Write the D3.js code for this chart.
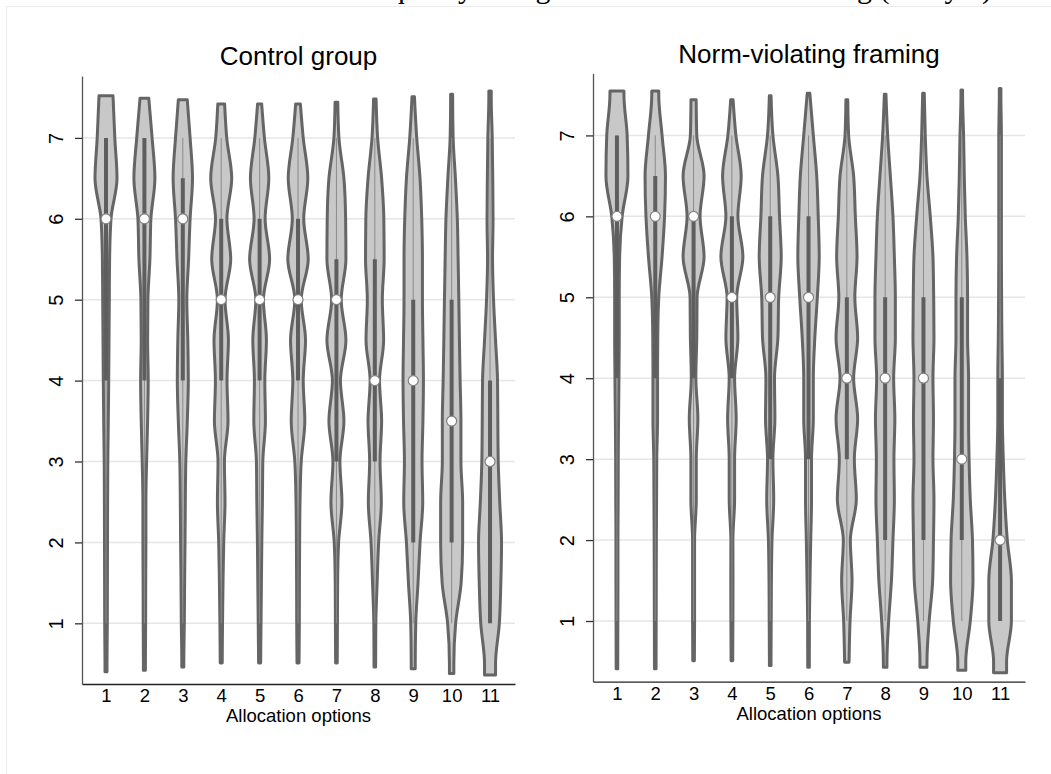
<!DOCTYPE html>
<html>
<head>
<meta charset="utf-8">
<script src="https://cdn.jsdelivr.net/npm/d3@7"></script>
<style>
  html, body { margin: 0; padding: 0; background: #fff; }
  svg { display: block; }
  text { font-family: 'Liberation Sans', Arial, sans-serif; fill: #000; }
</style>
</head>
<body>
<div id="chart"></div>
<script>
// Allocation options on the x axis
const options = [1, 2, 3, 4, 5, 6, 7, 8, 9, 10, 11];
const yTicks = [1, 2, 3, 4, 5, 6, 7];

const valueGrid = [0.5, 1, 1.5, 2, 2.5, 3, 3.5, 4, 4.5, 5, 5.5, 6, 6.5, 7, 7.5];

// Control group: density (relative width) at each valueGrid point
const controlDensity = [
  [1, 1.3, 1.4, 1.5, 1.6, 1.8, 2.3, 2.7, 3, 3.3, 3.6, 5, 11, 8.8, 7],
  [1, 1.2, 1.3, 1.5, 1.5, 2.2, 3.2, 3.8, 3.2, 3.5, 5.5, 6.5, 10.5, 7.7, 4.3],
  [1, 1.5, 1.8, 2.2, 2.5, 3, 4.5, 5.5, 5, 4, 5.8, 7.3, 9.7, 7.3, 4.3],
  [1, 1.3, 1.8, 2.5, 3.8, 3.2, 6.8, 5.8, 7.2, 3.8, 9.5, 5.7, 10.5, 5.5, 3],
  [1, 1.4, 1.8, 2.2, 2.8, 3.2, 5.8, 5.2, 6.8, 3.8, 10, 5.5, 9.2, 4.8, 1.5],
  [1, 1.3, 1.4, 1.6, 2, 3.2, 6.8, 5.2, 7.5, 3.2, 10.2, 5.7, 9.8, 5.2, 1.8],
  [0.8, 1, 1.2, 2.2, 5.5, 3.5, 7.5, 4, 9.5, 4.8, 9.5, 9.2, 7.5, 2.5, 1.2],
  [0.8, 1, 2.3, 3.8, 6.5, 5.2, 6.8, 4.7, 8.8, 7.5, 9.3, 9, 6.8, 2.8, 1.2],
  [2, 2.5, 4.8, 6.8, 9.5, 8.8, 9.7, 10.2, 9.7, 9.2, 9.2, 8.5, 6.8, 3.5, 1.2],
  [2.2, 4, 9.5, 11, 11, 9.3, 9.3, 8.5, 7.8, 7.2, 6.5, 5.7, 3.8, 1.5, 1],
  [5.5, 9.3, 10.8, 11.5, 9.7, 8.2, 7.8, 7.5, 5.5, 3.5, 2.5, 3, 2.7, 2.2, 1.2]
];
const controlLow = [0.4, 0.42, 0.46, 0.51, 0.51, 0.51, 0.51, 0.46, 0.44, 0.38, 0.36];
const controlHigh = [7.52, 7.49, 7.47, 7.42, 7.42, 7.42, 7.44, 7.48, 7.51, 7.54, 7.58];
const controlMedian = [6, 6, 6, 5, 5, 5, 5, 4, 4, 3.5, 3];
const controlQ1 = [4, 4, 4, 4, 4, 4, 3, 3, 2, 2, 1];
const controlQ3 = [7, 7, 6.5, 6, 6, 6, 5.5, 5.5, 5, 5, 4];
const controlWhiskerLow = [1, 1, 1, 1, 1, 1, 1, 1, 1, 1, 1];
const controlWhiskerHigh = [7, 7, 7, 7, 7, 7, 7, 7, 7, 7, 7];

// Norm-violating framing
const framingDensity = [
  [0.8, 0.9, 1, 1, 1.2, 1.3, 1.6, 2, 2.3, 2.3, 2.7, 5.2, 11, 10.2, 7],
  [0.8, 0.9, 1, 1.1, 1.3, 1.5, 2.3, 2.3, 2.5, 3.5, 6.8, 9.3, 10.2, 6.8, 3.5],
  [0.8, 1, 1, 1, 2.7, 2.7, 4.3, 2.3, 3.2, 3.5, 10.5, 6.5, 10.5, 3.2, 2.5],
  [0.8, 1, 1.1, 1, 2.7, 2.7, 4.3, 2.7, 6, 4.8, 11, 6, 9.3, 4, 0.8],
  [0.8, 1, 1.2, 1.8, 3.5, 2.7, 4.7, 4.3, 7.7, 8.5, 11, 9.3, 7.7, 2.7, 0.8],
  [0.8, 0.9, 1.5, 2.2, 3, 3, 4.8, 4.8, 6.3, 8.8, 10.7, 9.7, 8.2, 4.8, 1.3],
  [2.2, 3.2, 5.2, 3.5, 9.5, 7.5, 10.8, 6.8, 10.8, 8, 10.2, 8.5, 6.8, 1.8, 0.8],
  [1.8, 3.5, 6.3, 7.8, 9.2, 8.8, 9.7, 8.5, 10.2, 10.2, 9.2, 7.8, 5.2, 2.5, 0.8],
  [3.5, 5.7, 9.2, 10, 10.5, 9.5, 10, 9.5, 10.5, 10.2, 9.5, 6.8, 3.5, 1.8, 0.8],
  [4, 8.5, 11.2, 10.7, 8.5, 7.3, 6.8, 6.8, 5.8, 5.8, 5.2, 3.5, 2.5, 1.8, 0.8],
  [6.5, 11.3, 11.3, 7.2, 4.7, 3.2, 2.3, 2.3, 1.8, 1.5, 1.3, 1.3, 1.3, 1.3, 0.8]
];
const framingLow = [0.41, 0.41, 0.51, 0.51, 0.45, 0.43, 0.49, 0.43, 0.43, 0.39, 0.36];
const framingHigh = [7.55, 7.55, 7.44, 7.44, 7.49, 7.52, 7.44, 7.51, 7.52, 7.56, 7.58];
const framingMedian = [6, 6, 6, 5, 5, 5, 4, 4, 4, 3, 2];
const framingQ1 = [4, 4, 4, 4, 3, 3, 3, 2, 2, 2, 1];
const framingQ3 = [7, 6.5, 6, 6, 6, 6, 5, 5, 5, 5, 4];
const framingWhiskerLow = [1, 1, 1, 1, 1, 1, 1, 1, 1, 1, 1];
const framingWhiskerHigh = [7, 7, 7, 7, 7, 7, 7, 7, 7, 7, 7];

const width = 1051;
const height = 774;

const fillColor = '#c8c8c8';
const lineColor = '#656565';

const panels = [
  {
    title: 'Control group',
    density: controlDensity, low: controlLow, high: controlHigh,
    median: controlMedian, q1: controlQ1, q3: controlQ3,
    wlo: controlWhiskerLow, whi: controlWhiskerHigh,
    left: 82, right: 515, top: 76, bottom: 684
  },
  {
    title: 'Norm-violating framing',
    density: framingDensity, low: framingLow, high: framingHigh,
    median: framingMedian, q1: framingQ1, q3: framingQ3,
    wlo: framingWhiskerLow, whi: framingWhiskerHigh,
    left: 593, right: 1025, top: 73.5, bottom: 681.7
  }
];

const svg = d3.select('#chart')
  .append('svg')
  .attr('width', width)
  .attr('height', height)
  .attr('viewBox', [0, 0, width, height]);

// outer graph frame (runs off the page to the right and bottom)
svg.append('rect')
  .attr('x', 6.5).attr('y', 6.5)
  .attr('width', 1100).attr('height', 900)
  .attr('fill', 'none')
  .attr('stroke', '#ececec')
  .attr('stroke-width', 1);

// overall title, only its descenders reach into the page
svg.append('text')
  .attr('x', 992).attr('y', -2)
  .attr('text-anchor', 'end')
  .style('font-family', "'Liberation Serif', 'Times New Roman', serif")
  .style('font-size', '30px')
  .text('Inequality rating under control and framing (Study 1)');

// width scale shared by both panels
const maxDensity = d3.max(panels, p => d3.max(p.density, row => d3.max(row)));
const w = d3.scaleLinear().domain([0, maxDensity]).range([0, 11.5]);

panels.forEach(p => {
  const g = svg.append('g');

  const x = d3.scaleLinear().domain([0.375, 11.65]).range([p.left, p.right]);
  const y = d3.scaleLinear().domain([0.25, 7.765]).range([p.bottom, p.top]);

  // gridlines
  g.append('g')
    .selectAll('line')
    .data(yTicks)
    .join('line')
    .attr('x1', p.left).attr('x2', p.right)
    .attr('y1', d => y(d)).attr('y2', d => y(d))
    .attr('stroke', '#e6e6e6')
    .attr('stroke-width', 1.5);

  // violins
  options.forEach((opt, i) => {
    const cx = x(opt);
    const dens = d3.scaleLinear().domain(valueGrid).range(p.density[i]).clamp(true);
    const lo = p.low[i];
    const hi = p.high[i];
    let pts = [{ v: hi, d: dens(hi) }];
    valueGrid.slice().reverse().forEach(v => {
      if (v < hi - 0.02 && v > lo + 0.02) pts.push({ v: v, d: dens(v) });
    });
    pts.push({ v: lo, d: dens(lo) });

    const area = d3.area()
      .curve(d3.curveMonotoneY)
      .y(d => y(d.v))
      .x0(d => cx - w(d.d))
      .x1(d => cx + w(d.d));

    g.append('path')
      .attr('d', area(pts))
      .attr('fill', fillColor)
      .attr('stroke', lineColor)
      .attr('stroke-width', 3)
      .attr('stroke-linejoin', 'round');

    // whisker (adjacent values)
    g.append('line')
      .attr('x1', cx).attr('x2', cx)
      .attr('y1', y(p.wlo[i])).attr('y2', y(p.whi[i]))
      .attr('stroke', '#8a8a8a')
      .attr('stroke-width', 1);

    // interquartile range
    g.append('line')
      .attr('x1', cx).attr('x2', cx)
      .attr('y1', y(p.q1[i])).attr('y2', y(p.q3[i]))
      .attr('stroke', '#5e5e5e')
      .attr('stroke-width', 4);

    // median
    g.append('circle')
      .attr('cx', cx).attr('cy', y(p.median[i]))
      .attr('r', 5)
      .attr('fill', '#fff')
      .attr('stroke', '#808080')
      .attr('stroke-width', 1.2);
  });

  // y axis
  const yAxis = g.append('g')
    .attr('transform', 'translate(' + p.left + ',0)')
    .call(d3.axisLeft(y).tickValues(yTicks).tickSize(7).tickSizeOuter(0));
  yAxis.select('.domain').attr('stroke', '#555').attr('stroke-width', 1.3);
  yAxis.selectAll('.tick line').attr('stroke', '#333').attr('stroke-width', 1.3);
  yAxis.selectAll('.tick text')
    .attr('x', 0).attr('y', 0).attr('dy', null)
    .attr('text-anchor', 'middle')
    .attr('transform', 'translate(-19.5,0) rotate(-90)')
    .style('font-size', '20px')
    .attr('fill', '#000');

  // x axis
  const xAxis = g.append('g')
    .attr('transform', 'translate(0,' + p.bottom + ')')
    .call(d3.axisBottom(x).tickValues(options).tickSize(0).tickSizeOuter(0).tickPadding(5));
  xAxis.select('.domain').attr('stroke', '#222').attr('stroke-width', 1.3);
  xAxis.selectAll('.tick text')
    .style('font-size', '18.5px')
    .attr('fill', '#000');

  // axis title
  g.append('text')
    .attr('x', (p.left + p.right) / 2)
    .attr('y', p.bottom + 38)
    .attr('text-anchor', 'middle')
    .style('font-size', '18.5px')
    .text('Allocation options');

  // panel title
  g.append('text')
    .attr('x', (p.left + p.right) / 2)
    .attr('y', p.top - 11)
    .attr('text-anchor', 'middle')
    .style('font-size', '26px')
    .text(p.title);
});
</script>
</body>
</html>
